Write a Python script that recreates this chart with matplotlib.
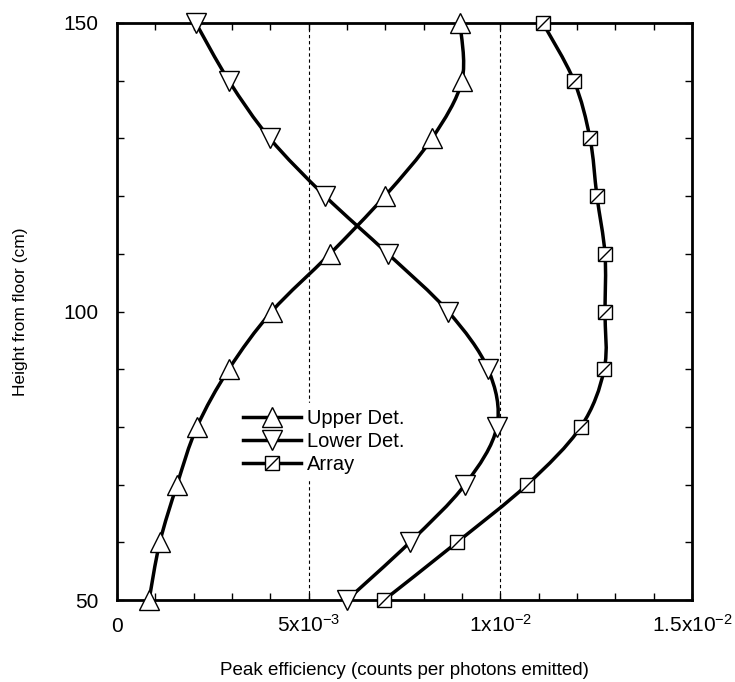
import numpy as np
import matplotlib
matplotlib.use('Agg')
from matplotlib import pyplot as plt
from matplotlib.path import Path
from matplotlib.patches import PathPatch
from matplotlib.lines import Line2D
from matplotlib.legend_handler import HandlerTuple
from matplotlib.ticker import MultipleLocator, FixedLocator

plt.rcParams['font.family'] = ['Liberation Sans', 'DejaVu Sans']
plt.rcParams['mathtext.fontset'] = 'custom'
plt.rcParams['mathtext.rm'] = 'Liberation Sans'
plt.rcParams['mathtext.it'] = 'Liberation Sans:italic'

# data
height = [50, 60, 70, 80, 90, 100, 110, 120, 130, 140, 150]
upper = [0.84e-3, 1.12e-3, 1.57e-3, 2.09e-3, 2.92e-3, 4.04e-3, 5.56e-3, 6.99e-3, 8.22e-3, 9.0e-3, 8.95e-3]
lower = [6.0e-3, 7.64e-3, 9.08e-3, 9.91e-3, 9.68e-3, 8.64e-3, 7.07e-3, 5.43e-3, 3.99e-3, 2.92e-3, 2.06e-3]
array_ = [6.97e-3, 8.87e-3, 10.7e-3, 12.1e-3, 12.71e-3, 12.73e-3, 12.73e-3, 12.52e-3, 12.34e-3, 11.92e-3, 11.11e-3]

xticks = [0, 5e-3, 1e-2, 1.5e-2]
xticklabels = ['0', r'$5\mathrm{x}10^{-3}$', r'$1\mathrm{x}10^{-2}$', r'$1.5\mathrm{x}10^{-2}$']
yticks = [50, 100, 150]

diag = Path([(-1, -1), (1, 1)], [Path.MOVETO, Path.LINETO])


def smooth_path(x, y):
    # Catmull-Rom curve through the points, as cubic bezier segments
    p = np.column_stack([x, y])
    n = len(p)
    verts = [p[0]]
    codes = [Path.MOVETO]
    for i in range(n - 1):
        p0 = p[max(i - 1, 0)]
        p1 = p[i]
        p2 = p[i + 1]
        p3 = p[min(i + 2, n - 1)]
        verts += [p1 + (p2 - p0) / 6, p2 - (p3 - p1) / 6, p2]
        codes += [Path.CURVE4] * 3
    return Path(verts, codes)


fig = plt.figure(figsize=(7.35, 6.82), dpi=100)
ax = fig.add_axes([0.159, 0.1202, 0.7825, 0.8461])

for xv in [5e-3, 1e-2]:
    ax.axvline(xv, color='black', lw=0.8, ls=(0, (3, 2.5)), zorder=1)

LW = 2.5
for xs in [upper, lower, array_]:
    ax.add_patch(PathPatch(smooth_path(xs, height), fill=False, lw=LW,
                           edgecolor='black', zorder=2))

mk = dict(ls='none', mfc='white', mec='black', mew=1.0, zorder=3, clip_on=False)
ax.plot(upper, height, marker='^', ms=14, **mk)
ax.plot(lower, height, marker='v', ms=14, **mk)
ax.plot(array_, height, marker='s', ms=9.5, **mk)
ax.plot(array_, height, ls='none', marker=diag, ms=9.5, mec='black', mew=1.0,
        zorder=4, clip_on=False)

ax.set_xlim(0, 1.5e-2)
ax.set_ylim(50, 150)
ax.xaxis.set_major_locator(FixedLocator(xticks))
ax.set_xticklabels(xticklabels)
ax.xaxis.set_minor_locator(MultipleLocator(1e-3))
ax.yaxis.set_major_locator(FixedLocator(yticks))
ax.yaxis.set_minor_locator(MultipleLocator(10))
ax.tick_params(which='both', direction='in', top=True, right=True,
               length=5, width=1, labelsize=15)
ax.tick_params(axis='x', pad=23)
ax.tick_params(axis='y', pad=13.5)
for t in ax.get_xticklabels():
    t.set_va('baseline')
for s in ax.spines.values():
    s.set_linewidth(2)

ax.set_xlabel('Peak efficiency (counts per photons emitted)', fontsize=13.5)
ax.set_ylabel('Height from floor (cm)', fontsize=12.5)
ax.xaxis.set_label_coords(0.5, -0.108)
ax.yaxis.set_label_coords(-0.155, 0.5)

h_up = Line2D([], [], color='black', lw=LW, marker='^', ms=14, mfc='white', mec='black', mew=1.0)
h_lo = Line2D([], [], color='black', lw=LW, marker='v', ms=14, mfc='white', mec='black', mew=1.0)
h_sq = Line2D([], [], color='black', lw=LW, marker='s', ms=9.5, mfc='white', mec='black', mew=1.0)
h_dg = Line2D([], [], ls='none', marker=diag, ms=9.5, mec='black', mew=1.0)
leg = ax.legend([h_up, h_lo, (h_sq, h_dg)], ['Upper Det.', 'Lower Det.', 'Array'],
                handler_map={tuple: HandlerTuple(ndivide=1)},
                loc='center', bbox_to_anchor=(0.36, 0.274), numpoints=1,
                handlelength=2.85, handletextpad=0.3, labelspacing=0.2,
                fontsize=14.5, frameon=True, framealpha=1, edgecolor='white',
                facecolor='white', fancybox=False, borderpad=0.3)
leg.set_zorder(5)

fig.savefig('out.png', dpi=100)
